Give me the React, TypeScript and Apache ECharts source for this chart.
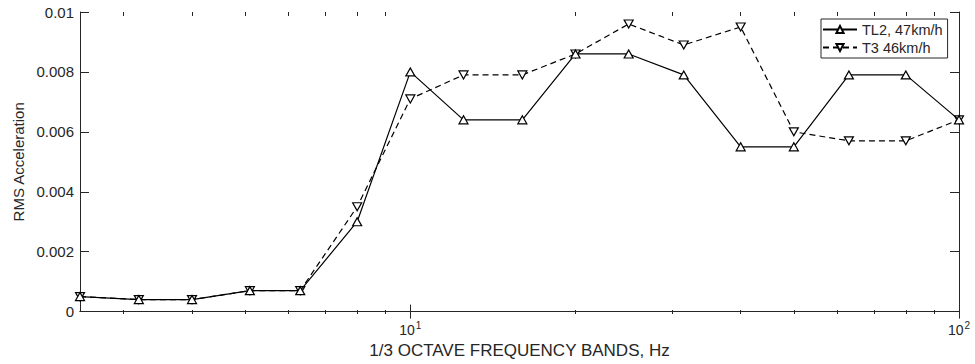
import { useEffect, useRef } from 'react';
import * as echarts from 'echarts';

const freqs = [2.5, 3.2, 4, 5.1, 6.3, 8, 10, 12.5, 16, 20, 25, 31.5, 40, 50, 63, 80, 100];
const tl2 = [0.0005, 0.0004, 0.0004, 0.0007, 0.0007, 0.003, 0.008, 0.0064, 0.0064, 0.0086, 0.0086, 0.0079, 0.0055, 0.0055, 0.0079, 0.0079, 0.0064];
const t3 = [0.0005, 0.0004, 0.0004, 0.0007, 0.0007, 0.0035, 0.0071, 0.0079, 0.0079, 0.0086, 0.0096, 0.0089, 0.0095, 0.006, 0.0057, 0.0057, 0.0064];
const seriesNames = ['TL2, 47km/h', 'T3 46km/h'];
const majorTicks = [10, 100];
const minorTicks = [3, 4, 5, 6, 7, 8, 9, 20, 30, 40, 50, 60, 70, 80, 90];
const xTitle = '1/3 OCTAVE FREQUENCY BANDS, Hz';
const yTitle = 'RMS Acceleration';

const FONT = '"Liberation Sans", Arial, Helvetica, sans-serif';
const AX = '#262626';

export default function App() {
  const ref = useRef<HTMLDivElement>(null);
  useEffect(() => {
    if (!ref.current) return;
    const chart = echarts.init(ref.current, undefined, { renderer: 'svg' });
    const gridPos = { left: 80, right: 16, top: 12, bottom: 50 };
    const xBase = { type: 'log', logBase: 10, min: 2.5, max: 100, splitLine: { show: false } };
    const supLabel = (v: number) => `{b|10}{s|${Math.round(Math.log10(v))}}`;
    chart.setOption({
      animation: false,
      textStyle: { fontFamily: FONT },
      grid: [
        { ...gridPos },
        { ...gridPos },
      ],
      legend: {
        orient: 'vertical',
        left: 821,
        top: 19,
        itemWidth: 34,
        itemHeight: 9,
        itemGap: 3,
        padding: [3, 5, 3, 1],
        borderColor: AX,
        borderWidth: 1,
        backgroundColor: '#fff',
        textStyle: { fontSize: 14.5, color: AX, fontFamily: FONT },
        data: seriesNames,
      },
      xAxis: [
        {
          ...xBase,
          gridIndex: 0,
          position: 'bottom',
          name: xTitle,
          nameLocation: 'middle',
          nameGap: 28,
          nameTextStyle: { fontSize: 17, color: AX, fontFamily: FONT },
          axisLine: { show: true, lineStyle: { color: AX, width: 1 } },
          axisTick: { show: true, inside: true, length: 7, customValues: majorTicks, lineStyle: { color: AX } },
          axisLabel: {
            show: true,
            customValues: majorTicks,
            margin: 9,
            formatter: (v: number) => supLabel(v),
            rich: {
              b: { fontSize: 14, color: AX, fontFamily: FONT },
              s: { fontSize: 10, color: AX, fontFamily: FONT, padding: [0, 0, 9, 1] },
            },
          },
        },
        {
          ...xBase,
          gridIndex: 0,
          position: 'top',
          axisLine: { show: true, lineStyle: { color: AX, width: 1 } },
          axisTick: { show: true, inside: true, length: 7, customValues: majorTicks, lineStyle: { color: AX } },
          axisLabel: { show: false },
        },
        {
          ...xBase,
          gridIndex: 1,
          position: 'bottom',
          axisLine: { show: false },
          axisTick: { show: true, inside: true, length: 4, customValues: minorTicks, lineStyle: { color: AX } },
          axisLabel: { show: false },
        },
        {
          ...xBase,
          gridIndex: 1,
          position: 'top',
          axisLine: { show: false },
          axisTick: { show: true, inside: true, length: 4, customValues: minorTicks, lineStyle: { color: AX } },
          axisLabel: { show: false },
        },
      ],
      yAxis: [
        {
          type: 'value',
          gridIndex: 0,
          position: 'left',
          min: 0,
          max: 0.01,
          interval: 0.002,
          name: yTitle,
          nameLocation: 'middle',
          nameGap: 54,
          nameTextStyle: { fontSize: 15, color: AX, fontFamily: FONT },
          splitLine: { show: false },
          axisLine: { show: true, lineStyle: { color: AX, width: 1 } },
          axisTick: { show: true, inside: true, length: 9, lineStyle: { color: AX } },
          axisLabel: {
            fontSize: 15,
            color: AX,
            margin: 6,
            fontFamily: FONT,
            formatter: (v: number) => String(Number(v.toFixed(4))),
          },
        },
        {
          type: 'value',
          gridIndex: 0,
          position: 'right',
          min: 0,
          max: 0.01,
          interval: 0.002,
          splitLine: { show: false },
          axisLine: { show: true, lineStyle: { color: AX, width: 1 } },
          axisTick: { show: true, inside: true, length: 9, lineStyle: { color: AX } },
          axisLabel: { show: false },
        },
        {
          type: 'value',
          gridIndex: 1,
          min: 0,
          max: 0.01,
          show: false,
        },
      ],
      series: [
        {
          name: seriesNames[0],
          type: 'line',
          xAxisIndex: 0,
          yAxisIndex: 0,
          data: freqs.map((f, i) => [f, tl2[i]]),
          symbol: 'triangle',
          symbolSize: [9, 8],
          lineStyle: { color: '#000', width: 1.2, type: 'solid' },
          itemStyle: { color: '#fff', borderColor: '#000', borderWidth: 1.2 },
          z: 3,
        },
        {
          name: seriesNames[1],
          type: 'line',
          xAxisIndex: 0,
          yAxisIndex: 0,
          data: freqs.map((f, i) => [f, t3[i]]),
          symbol: 'triangle',
          symbolRotate: 180,
          symbolSize: [9, 8],
          lineStyle: { color: '#000', width: 1.2, type: [6, 4] },
          itemStyle: { color: '#fff', borderColor: '#000', borderWidth: 1.2 },
          z: 2,
        },
      ],
    });
    return () => chart.dispose();
  }, []);
  return (
    <div
      ref={ref}
      style={{ position: 'fixed', left: 0, top: 0, width: 975, height: 364, background: '#fff' }}
    />
  );
}
